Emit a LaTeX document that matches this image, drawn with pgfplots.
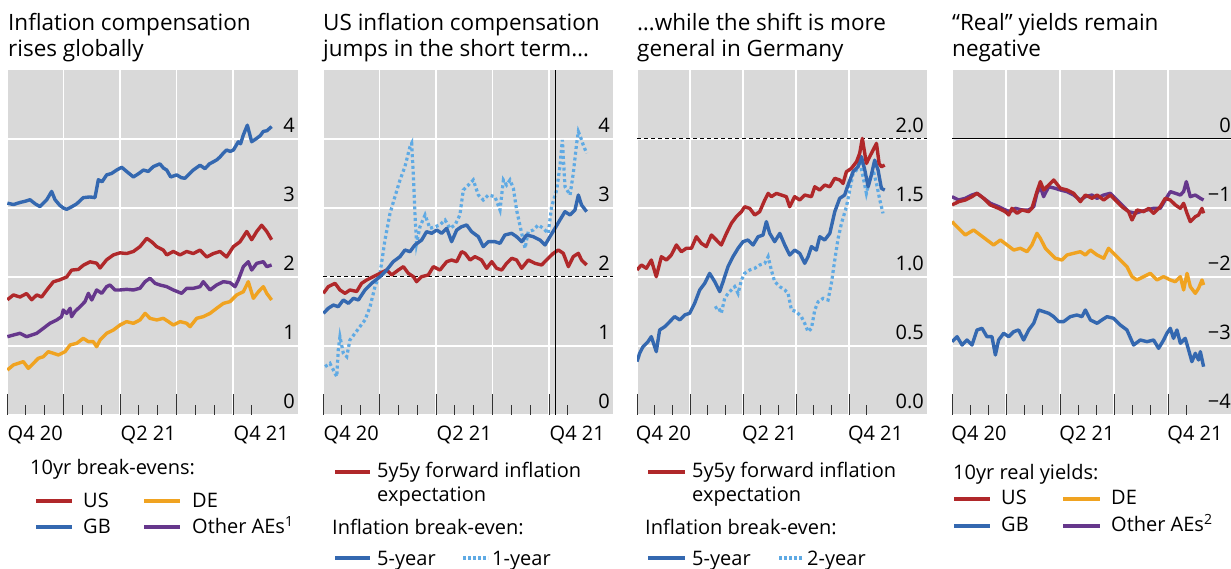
\documentclass[border=0pt]{standalone}
\usepackage{fontspec}
\setmainfont{Open Sans}
\usepackage{pgfplots}
\pgfplotsset{compat=1.18}
\definecolor{bgg}{RGB}{217,217,217}
\definecolor{bred}{RGB}{176,40,42}
\definecolor{bblue}{RGB}{52,104,176}
\definecolor{borange}{RGB}{240,163,33}
\definecolor{bpurple}{RGB}{102,55,140}
\definecolor{blight}{RGB}{95,170,228}
\newcommand\tfont{\fontsize{22.5}{26}\selectfont}
\newcommand\lfont{\fontsize{20}{24}\selectfont}
\pgfplotsset{
  panel/.style={
    scale only axis, height=345pt,
    axis background/.style={fill=bgg},
    axis line style={draw=none},
    xmin=0,
    xtick={1.5,7.5,13.5}, xticklabels={Q4 20,Q2 21,Q4 21},
    major tick length=0pt,
    minor xtick={1,2,4,5,7,8,10,11,13},
    minor tick length=10pt,
    extra x ticks={0,3,6,9,12}, extra x tick labels={},
    extra x tick style={major tick length=21pt, grid=major},
    xtick pos=left,
    tick align=inside,
    every tick/.style={black!80, line width=0.9pt},
    ymajorgrids,
    major grid style={white, line width=1.4pt},
    yticklabel pos=right,
    yticklabel style={anchor=base east, inner sep=0pt, xshift=-3pt, yshift=6pt, font=\lfont},
    xticklabel style={anchor=base, inner sep=0pt, yshift=-26pt, font=\lfont},
  },
  dl/.style={line width=3.4pt, line join=round},
  dt/.style={line width=3.2pt, blight, dash pattern=on 3pt off 2.8pt},
}
\begin{document}
\begin{tikzpicture}
\path[use as bounding box] (0,0) rectangle (1231pt,569pt);
% ---------- Panel 1
\begin{axis}[panel, at={(7pt,154pt)}, anchor=south west, width=291pt,
  xmax=15.45, ymin=0, ymax=5, ytick={0,1,2,3,4}, yticklabels={0,1,2,3,4}]
\addplot[dl, bblue] coordinates {(0.02,3.07)(0.35,3.05)(0.69,3.08)(1.0,3.10)(1.22,3.12)(1.5,3.06)(1.75,3.02)(2.11,3.12)(2.37,3.24)(2.55,3.12)(2.8,3.04)(2.99,3.00)(3.17,2.98)(3.45,3.02)(3.70,3.06)(4.05,3.15)(4.4,3.16)(4.67,3.15)(4.85,3.41)(5.05,3.38)(5.29,3.48)(5.55,3.50)(5.82,3.55)(6.09,3.59)(6.35,3.53)(6.71,3.45)(7.0,3.50)(7.24,3.55)(7.5,3.53)(7.77,3.60)(8.12,3.64)(8.3,3.58)(8.48,3.55)(8.69,3.45)(9.01,3.48)(9.25,3.44)(9.45,3.43)(9.7,3.50)(9.89,3.55)(10.25,3.62)(10.51,3.57)(10.75,3.64)(10.96,3.67)(11.15,3.70)(11.31,3.74)(11.5,3.80)(11.66,3.84)(11.85,3.82)(12.02,3.84)(12.15,3.90)(12.28,3.96)(12.4,3.93)(12.55,4.06)(12.76,4.20)(12.99,3.96)(13.26,4.01)(13.45,4.05)(13.61,4.11)(13.8,4.12)(14.05,4.18)};
\addplot[dl, bred] coordinates {(0.02,1.67)(0.34,1.74)(0.69,1.71)(1.04,1.76)(1.31,1.67)(1.58,1.74)(1.84,1.71)(2.11,1.81)(2.46,1.93)(2.81,1.96)(3.17,2.00)(3.43,2.10)(3.79,2.11)(4.05,2.17)(4.41,2.22)(4.76,2.20)(4.94,2.13)(5.29,2.25)(5.65,2.32)(6.00,2.35)(6.35,2.34)(6.71,2.37)(7.06,2.44)(7.42,2.56)(7.68,2.51)(7.95,2.44)(8.30,2.39)(8.48,2.32)(8.83,2.37)(9.19,2.32)(9.54,2.37)(9.89,2.34)(10.25,2.39)(10.60,2.29)(10.96,2.34)(11.31,2.37)(11.66,2.29)(12.02,2.44)(12.37,2.51)(12.73,2.66)(12.99,2.54)(13.26,2.66)(13.52,2.75)(13.79,2.66)(14.05,2.54)};
\addplot[dl, bpurple] coordinates {(0.02,1.135)(0.34,1.159)(0.69,1.184)(1.04,1.135)(1.31,1.159)(1.58,1.184)(1.93,1.256)(2.28,1.329)(2.64,1.377)(2.90,1.425)(2.99,1.522)(3.17,1.473)(3.35,1.546)(3.43,1.425)(3.61,1.5)(3.88,1.570)(4.14,1.643)(4.32,1.763)(4.50,1.667)(4.76,1.812)(5.03,1.763)(5.29,1.860)(5.47,1.884)(5.73,1.812)(6.00,1.812)(6.35,1.821)(6.71,1.812)(7.06,1.836)(7.33,1.932)(7.59,1.981)(7.86,1.908)(8.12,1.884)(8.48,1.860)(8.83,1.812)(9.27,1.763)(9.54,1.836)(9.89,1.836)(10.25,1.860)(10.42,1.932)(10.78,1.812)(11.13,1.884)(11.49,1.932)(11.84,1.918)(12.11,1.860)(12.28,1.957)(12.55,2.150)(12.81,2.222)(12.99,2.101)(13.26,2.198)(13.61,2.222)(13.79,2.150)(14.05,2.174)};
\addplot[dl, borange] coordinates {(0.02,0.652)(0.34,0.725)(0.60,0.749)(0.87,0.773)(1.13,0.676)(1.40,0.749)(1.66,0.821)(1.93,0.845)(2.19,0.918)(2.46,0.894)(2.73,0.870)(3.08,0.918)(3.35,1.015)(3.70,1.039)(4.05,1.111)(4.32,1.063)(4.58,1.063)(4.76,0.990)(4.94,1.087)(5.29,1.184)(5.65,1.232)(6.00,1.304)(6.35,1.353)(6.71,1.329)(7.06,1.377)(7.33,1.473)(7.59,1.401)(7.95,1.377)(8.30,1.401)(8.57,1.353)(8.83,1.304)(9.19,1.353)(9.54,1.329)(9.72,1.280)(10.07,1.401)(10.42,1.425)(10.78,1.473)(11.13,1.546)(11.49,1.618)(11.84,1.643)(12.19,1.739)(12.55,1.787)(12.81,1.932)(13.08,1.691)(13.35,1.787)(13.61,1.860)(13.79,1.763)(14.05,1.667)};
\end{axis}
% ---------- Panel 2
\begin{axis}[panel, at={(323pt,154pt)}, anchor=south west, width=290pt,
  xmax=15.4, ymin=0, ymax=5, ytick={0,1,2,3,4}, yticklabels={0,1,2,3,4}]
\addplot[black, line width=1pt, dash pattern=on 4pt off 3pt] coordinates {(0,2)(15.4,2)};
\addplot[dt] coordinates {(0.11,0.700)(0.37,0.749)(0.64,0.604)(0.73,0.556)(0.81,0.942)(0.90,1.135)(1.08,0.894)(1.26,0.845)(1.43,1.087)(1.70,1.184)(1.96,1.280)(2.23,1.377)(2.50,1.570)(2.76,1.860)(3.03,2.053)(3.29,2.536)(3.56,2.923)(3.82,3.164)(4.09,3.406)(4.35,3.599)(4.62,3.889)(4.71,3.937)(4.80,3.454)(4.88,2.923)(4.97,2.488)(5.15,2.729)(5.42,2.899)(5.68,2.705)(5.95,2.729)(6.21,2.754)(6.48,2.826)(6.74,2.705)(7.01,2.754)(7.27,2.899)(7.45,3.261)(7.72,3.333)(7.98,3.406)(8.25,3.188)(8.51,3.116)(8.78,3.188)(9.13,3.164)(9.40,2.971)(9.58,3.406)(9.75,3.333)(9.93,3.406)(10.11,3.285)(10.28,2.971)(10.55,2.633)(10.73,2.416)(10.90,2.657)(11.17,2.681)(11.43,2.754)(11.70,2.705)(11.96,2.633)(12.14,3.019)(12.41,3.261)(12.58,3.599)(12.71,3.986)(12.85,3.309)(13.12,3.188)(13.29,3.502)(13.47,3.937)(13.56,4.106)(13.70,4.010)(13.82,3.913)(14.00,3.792)};
\addplot[dl, bred] coordinates {(0.02,1.763)(0.28,1.860)(0.64,1.908)(0.90,1.812)(1.17,1.763)(1.43,1.812)(1.79,1.790)(2.05,1.908)(2.32,1.957)(2.67,2.005)(3.03,2.053)(3.38,2.101)(3.65,2.029)(4.00,2.101)(4.27,2.150)(4.53,2.053)(4.80,2.005)(4.97,1.932)(5.24,2.005)(5.59,2.029)(5.86,2.150)(6.21,2.101)(6.57,2.222)(6.83,2.246)(7.10,2.222)(7.36,2.367)(7.54,2.343)(7.81,2.246)(8.07,2.295)(8.42,2.246)(8.69,2.126)(8.96,2.222)(9.22,2.126)(9.49,2.101)(9.75,2.198)(10.02,2.271)(10.28,2.246)(10.55,2.126)(10.90,2.246)(11.26,2.198)(11.61,2.174)(11.96,2.271)(12.23,2.343)(12.50,2.391)(12.76,2.343)(13.03,2.150)(13.29,2.295)(13.56,2.343)(13.73,2.246)(14.00,2.174)};
\addplot[dl, bblue] coordinates {(0.02,1.473)(0.28,1.546)(0.55,1.594)(0.81,1.570)(1.08,1.667)(1.35,1.618)(1.61,1.691)(1.88,1.667)(2.23,1.812)(2.58,1.908)(3.03,2.005)(3.38,2.101)(3.73,2.222)(4.09,2.295)(4.35,2.391)(4.62,2.367)(4.88,2.464)(5.24,2.536)(5.50,2.657)(5.77,2.633)(6.04,2.681)(6.30,2.633)(6.57,2.705)(6.83,2.512)(7.10,2.681)(7.36,2.729)(7.63,2.754)(7.89,2.657)(8.25,2.584)(8.51,2.440)(8.78,2.512)(9.13,2.512)(9.40,2.488)(9.66,2.609)(10.02,2.633)(10.28,2.584)(10.55,2.512)(10.81,2.609)(11.17,2.584)(11.52,2.536)(11.79,2.464)(12.05,2.584)(12.32,2.705)(12.58,2.826)(12.85,2.947)(13.12,2.899)(13.38,2.971)(13.56,3.188)(13.73,3.043)(14.00,2.947)};
\addplot[black, line width=1pt] coordinates {(12.35,0)(12.35,5)};
\end{axis}
% ---------- Panel 3
\begin{axis}[panel, at={(637pt,154pt)}, anchor=south west, width=290pt,
  xmax=16.41, ymin=0, ymax=2.5, ytick={0,0.5,1,1.5,2}, yticklabels={0.0,0.5,1.0,1.5,2.0}]
\addplot[black, line width=1pt, dash pattern=on 4pt off 3pt] coordinates {(0,2)(16.41,2)};
\addplot[dt] coordinates {(4.40,0.773)(4.58,0.785)(4.77,0.737)(4.96,0.845)(5.15,0.881)(5.34,0.906)(5.53,0.930)(5.72,0.881)(5.91,0.978)(6.09,1.026)(6.38,1.051)(6.66,1.063)(6.94,1.087)(7.23,1.099)(7.42,1.147)(7.60,1.051)(7.79,0.966)(8.08,0.930)(8.36,0.906)(8.55,0.881)(8.74,0.761)(9.02,0.749)(9.30,0.712)(9.49,0.664)(9.68,0.604)(9.87,0.628)(10.06,0.761)(10.25,0.821)(10.53,0.845)(10.81,0.833)(11.00,0.954)(11.19,1.123)(11.38,1.280)(11.57,1.389)(11.85,1.509)(12.04,1.630)(12.23,1.751)(12.42,1.775)(12.60,1.835)(12.79,1.727)(12.98,1.606)(13.17,1.703)(13.36,1.775)(13.55,1.678)(13.74,1.558)(13.92,1.461)};
\addplot[dl, bblue] coordinates {(0,0.387)(0.15,0.447)(0.34,0.495)(0.62,0.531)(0.81,0.568)(1.09,0.459)(1.28,0.616)(1.57,0.640)(1.85,0.676)(2.13,0.713)(2.42,0.689)(2.70,0.725)(2.98,0.737)(3.26,0.809)(3.55,0.906)(3.83,0.954)(4.11,1.026)(4.40,0.966)(4.68,0.894)(4.87,0.966)(5.15,1.075)(5.43,1.147)(5.72,1.208)(6.00,1.256)(6.28,1.268)(6.57,1.232)(6.85,1.292)(7.13,1.304)(7.32,1.401)(7.51,1.316)(7.79,1.256)(8.08,1.316)(8.36,1.232)(8.64,1.159)(8.92,1.195)(9.21,1.171)(9.49,1.099)(9.68,1.147)(9.87,1.220)(10.15,1.195)(10.34,1.292)(10.62,1.268)(10.91,1.316)(11.19,1.473)(11.47,1.570)(11.75,1.594)(11.94,1.666)(12.23,1.763)(12.51,1.799)(12.70,1.872)(12.89,1.775)(13.08,1.654)(13.26,1.739)(13.45,1.847)(13.64,1.775)(13.83,1.642)(14.02,1.630)};
\addplot[dl, bred] coordinates {(0,1.051)(0.25,1.087)(0.53,1.063)(0.81,1.123)(1.09,1.002)(1.38,1.147)(1.66,1.123)(1.94,1.159)(2.23,1.232)(2.51,1.183)(2.79,1.208)(3.08,1.208)(3.36,1.292)(3.64,1.244)(3.92,1.220)(4.21,1.304)(4.49,1.268)(4.77,1.232)(5.06,1.316)(5.34,1.389)(5.62,1.437)(5.91,1.473)(6.09,1.509)(6.38,1.497)(6.66,1.449)(6.94,1.473)(7.23,1.558)(7.42,1.606)(7.60,1.582)(7.89,1.606)(8.17,1.594)(8.45,1.582)(8.64,1.509)(8.92,1.582)(9.21,1.558)(9.49,1.594)(9.87,1.582)(10.06,1.654)(10.34,1.630)(10.62,1.666)(10.91,1.654)(11.19,1.715)(11.47,1.703)(11.66,1.678)(11.85,1.763)(12.13,1.787)(12.42,1.835)(12.60,1.896)(12.75,2.004)(12.98,1.823)(13.17,1.872)(13.36,1.920)(13.55,1.968)(13.70,1.823)(13.83,1.799)(14.02,1.811)};
\end{axis}
% ---------- Panel 4
\begin{axis}[panel, at={(952pt,154pt)}, anchor=south west, width=282pt,
  xmax=15.67, ymin=-4, ymax=1, ytick={-4,-3,-2,-1,0}, yticklabels={−4,−3,−2,−1,0}]
\addplot[black, line width=1pt] coordinates {(0,0)(15.67,0)};
\addplot[dl, bpurple] coordinates {(0,-0.836)(0.37,-0.884)(0.74,-0.860)(1.11,-0.812)(1.39,-0.787)(1.76,-0.860)(2.13,-0.932)(2.59,-0.981)(2.96,-1.029)(3.24,-1.053)(3.52,-1.005)(3.89,-1.029)(4.26,-1.029)(4.54,-0.981)(4.72,-0.787)(4.91,-0.691)(5.09,-0.836)(5.37,-0.691)(5.74,-0.715)(6.02,-0.739)(6.39,-0.763)(6.76,-0.812)(7.13,-0.884)(7.41,-0.836)(7.78,-0.812)(8.06,-0.860)(8.43,-0.812)(8.80,-0.787)(9.07,-0.860)(9.44,-0.956)(9.81,-1.053)(10.19,-1.077)(10.46,-1.053)(10.83,-1.029)(11.20,-1.005)(11.57,-1.005)(11.85,-0.884)(12.13,-0.763)(12.41,-0.787)(12.69,-0.812)(12.87,-0.763)(13.02,-0.618)(13.24,-0.836)(13.52,-0.812)(13.80,-0.860)(13.98,-0.884)};
\addplot[dl, bred] coordinates {(0,-0.956)(0.37,-0.908)(0.74,-0.884)(1.11,-0.836)(1.39,-0.787)(1.76,-0.860)(2.13,-0.956)(2.59,-1.005)(2.96,-1.053)(3.15,-1.101)(3.33,-1.005)(3.61,-1.077)(3.89,-1.029)(4.26,-1.053)(4.44,-1.005)(4.72,-0.763)(4.91,-0.618)(5.09,-0.739)(5.37,-0.667)(5.65,-0.594)(6.02,-0.715)(6.39,-0.739)(6.76,-0.787)(7.13,-0.908)(7.41,-0.812)(7.78,-0.860)(8.06,-0.812)(8.43,-0.884)(8.80,-0.812)(9.07,-0.884)(9.44,-0.981)(9.81,-1.053)(10.00,-1.174)(10.28,-1.029)(10.65,-1.053)(10.93,-1.005)(11.20,-1.077)(11.57,-0.981)(11.85,-0.860)(12.13,-0.884)(12.41,-0.956)(12.69,-1.005)(12.87,-0.932)(13.06,-1.077)(13.24,-1.198)(13.52,-1.126)(13.70,-1.101)(13.89,-1.005)(13.98,-1.077)};
\addplot[dl, borange] coordinates {(0,-1.198)(0.37,-1.295)(0.74,-1.391)(1.20,-1.319)(1.57,-1.391)(1.94,-1.464)(2.31,-1.536)(2.69,-1.464)(3.06,-1.536)(3.43,-1.609)(3.80,-1.584)(4.17,-1.633)(4.44,-1.536)(4.72,-1.367)(4.91,-1.440)(5.19,-1.584)(5.46,-1.657)(5.74,-1.729)(6.11,-1.754)(6.39,-1.681)(6.76,-1.657)(7.13,-1.633)(7.41,-1.681)(7.69,-1.609)(8.06,-1.681)(8.43,-1.729)(8.70,-1.584)(8.98,-1.657)(9.35,-1.754)(9.72,-1.850)(10.00,-1.995)(10.28,-2.043)(10.65,-1.995)(11.02,-1.947)(11.39,-2.043)(11.76,-1.995)(12.13,-2.043)(12.41,-2.068)(12.69,-1.995)(12.87,-2.188)(13.06,-1.947)(13.24,-2.140)(13.52,-2.237)(13.70,-2.164)(13.89,-2.043)(13.98,-2.116)};
\addplot[dl, bblue] coordinates {(0,-2.937)(0.28,-2.865)(0.56,-2.986)(0.83,-2.913)(1.11,-2.986)(1.39,-2.768)(1.67,-2.744)(1.94,-2.865)(2.22,-2.865)(2.41,-3.130)(2.59,-2.913)(2.87,-2.816)(3.15,-2.865)(3.43,-2.792)(3.70,-2.768)(3.98,-2.913)(4.26,-2.768)(4.54,-2.671)(4.81,-2.478)(5.09,-2.502)(5.37,-2.526)(5.65,-2.575)(5.93,-2.647)(6.20,-2.647)(6.57,-2.575)(6.94,-2.551)(7.22,-2.575)(7.41,-2.478)(7.69,-2.623)(8.06,-2.671)(8.33,-2.623)(8.61,-2.575)(8.98,-2.599)(9.35,-2.696)(9.72,-2.768)(10.09,-2.986)(10.46,-2.913)(10.83,-2.937)(11.20,-2.913)(11.48,-3.034)(11.76,-2.913)(11.94,-2.816)(12.13,-2.744)(12.31,-2.889)(12.50,-2.768)(12.69,-2.961)(12.96,-2.889)(13.15,-3.058)(13.33,-3.227)(13.52,-3.106)(13.70,-3.203)(13.80,-3.082)(13.98,-3.300)};
\end{axis}
% ---------- Titles
\node[anchor=base west, inner sep=0pt, font=\tfont] at (8pt,538pt) {Inflation compensation};
\node[anchor=base west, inner sep=0pt, font=\tfont] at (8pt,512pt) {rises globally};
\node[anchor=base west, inner sep=0pt, font=\tfont] at (323pt,538pt) {US inflation compensation};
\node[anchor=base west, inner sep=0pt, font=\tfont] at (323pt,512pt) {jumps in the short term…};
\node[anchor=base west, inner sep=0pt, font=\tfont] at (637pt,538pt) {…while the shift is more};
\node[anchor=base west, inner sep=0pt, font=\tfont] at (637pt,512pt) {general in Germany};
\node[anchor=base west, inner sep=0pt, font=\tfont] at (952pt,538pt) {“Real” yields remain};
\node[anchor=base west, inner sep=0pt, font=\tfont] at (952pt,512pt) {negative};
% ---------- Legends
\begin{scope}[every node/.style={anchor=base west, inner sep=0pt, font=\lfont}]
% panel 1
\node at (30pt,94pt) {10yr break-evens:};
\draw[bred, line width=4pt] (36pt,68pt) -- (72pt,68pt); \node at (83pt,61pt) {US};
\draw[bblue, line width=4pt] (36pt,42pt) -- (72pt,42pt); \node at (83pt,35pt) {GB};
\draw[borange, line width=4pt] (144pt,68pt) -- (180pt,68pt); \node at (192pt,61pt) {DE};
\draw[bpurple, line width=4pt] (144pt,42pt) -- (180pt,42pt); \node at (192pt,35pt) {Other AEs\textsuperscript{1}};
% panel 2
\draw[bred, line width=4pt] (335pt,97pt) -- (370pt,97pt); \node at (377pt,91pt) {5y5y forward inflation};
\node at (377pt,67pt) {expectation};
\node at (332pt,34pt) {Inflation break-even:};
\draw[bblue, line width=4pt] (335pt,11pt) -- (370pt,11pt); \node at (377pt,3pt) {5-year};
\draw[blight, line width=4pt, dash pattern=on 3pt off 2pt] (463pt,11pt) -- (488pt,11pt); \node at (492pt,3pt) {1-year};
% panel 3
\draw[bred, line width=4pt] (648pt,97pt) -- (685pt,97pt); \node at (692pt,91pt) {5y5y forward inflation};
\node at (692pt,67pt) {expectation};
\node at (645pt,34pt) {Inflation break-even:};
\draw[bblue, line width=4pt] (648pt,11pt) -- (685pt,11pt); \node at (692pt,3pt) {5-year};
\draw[blight, line width=4pt, dash pattern=on 3pt off 2pt] (779pt,11pt) -- (803pt,11pt); \node at (807pt,3pt) {2-year};
% panel 4
\node at (953pt,89pt) {10yr real yields:};
\draw[bred, line width=4pt] (954pt,70pt) -- (990pt,70pt); \node at (1001pt,64pt) {US};
\draw[bblue, line width=4pt] (954pt,43pt) -- (990pt,43pt); \node at (1001pt,37pt) {GB};
\draw[borange, line width=4pt] (1063pt,70pt) -- (1100pt,70pt); \node at (1111pt,64pt) {DE};
\draw[bpurple, line width=4pt] (1063pt,43pt) -- (1100pt,43pt); \node at (1111pt,37pt) {Other AEs\textsuperscript{2}};
\end{scope}
\end{tikzpicture}
\end{document}
